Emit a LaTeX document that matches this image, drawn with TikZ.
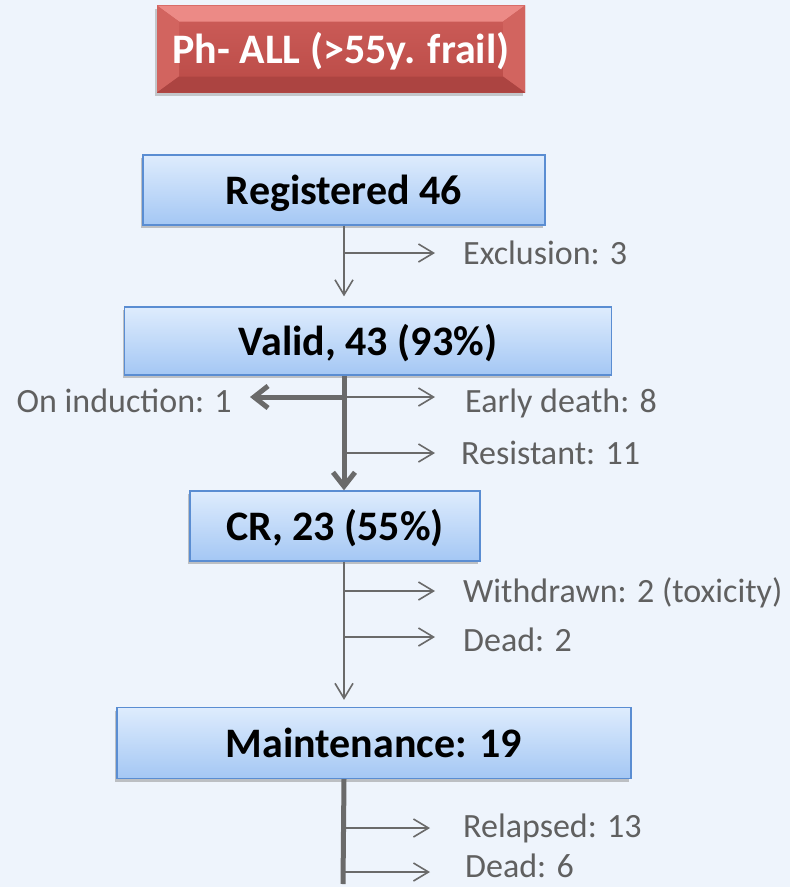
\documentclass[tikz,border=0pt]{standalone}
\usepackage{fontspec}
\setmainfont{Carlito}
\usepackage{xcolor}
\usetikzlibrary{positioning}
\usetikzlibrary{arrows.meta}
\usetikzlibrary{shadows}

\definecolor{bgblue}{HTML}{EEF4FC}
\definecolor{boxtop}{HTML}{DEECFD}
\definecolor{boxbot}{HTML}{A4C7F4}
\definecolor{boxedge}{HTML}{5A8DD2}
\definecolor{flowgray}{HTML}{6A6A6A}
\definecolor{labelgray}{HTML}{606060}
\definecolor{redtop}{HTML}{CE5E5A}
\definecolor{redbot}{HTML}{B94A46}
\definecolor{bevlight}{HTML}{EC8A86}
\definecolor{bevside}{HTML}{D2645F}
\definecolor{bevdark}{HTML}{AC4441}

\tikzset{
    stage/.style={draw=boxedge, line width=1.3pt, top color=boxtop, bottom color=boxbot,
        font=\fontsize{42}{46}\selectfont\bfseries, text height=28pt, text depth=0pt,
        drop shadow={shadow xshift=-2pt, shadow yshift=-3pt, fill=black!45}},
    titlebox/.style={text=white, top color=redtop, bottom color=redbot,
        font=\fontsize{42}{46}\selectfont\bfseries, text height=28pt, text depth=0pt,
        drop shadow={shadow xshift=-2pt, shadow yshift=-3pt, fill=black!40},
        path picture={
            \fill[bevlight] (path picture bounding box.north west) -- (path picture bounding box.north east)
                -- ([shift={(-22pt,-16pt)}]path picture bounding box.north east)
                -- ([shift={(22pt,-16pt)}]path picture bounding box.north west) -- cycle;
            \fill[bevside] (path picture bounding box.north west) -- ([shift={(22pt,-16pt)}]path picture bounding box.north west)
                -- ([shift={(22pt,16pt)}]path picture bounding box.south west) -- (path picture bounding box.south west) -- cycle;
            \fill[bevside] (path picture bounding box.north east) -- ([shift={(-22pt,-16pt)}]path picture bounding box.north east)
                -- ([shift={(-22pt,16pt)}]path picture bounding box.south east) -- (path picture bounding box.south east) -- cycle;
            \fill[bevdark] (path picture bounding box.south west) -- (path picture bounding box.south east)
                -- ([shift={(-22pt,16pt)}]path picture bounding box.south east)
                -- ([shift={(22pt,16pt)}]path picture bounding box.south west) -- cycle;
        }},
    outcome/.style={text=labelgray, font=\fontsize{34}{38}\selectfont, inner sep=0pt,
        text height=23pt, text depth=0pt},
    flow/.style={draw=flowgray, line width=1.6pt, -{Straight Barb[length=15pt,width=18pt]}},
    mainflow/.style={draw=flowgray, line width=5pt},
    thickhead/.style={-{Straight Barb[length=14pt,width=22pt]}},
}

\begin{document}
\begin{tikzpicture}[x=1pt,y=-1pt]
    \fill[bgblue] (0,0) rectangle (790,887);
    \useasboundingbox (0,0) rectangle (790,887);

    % boxes of the flow
    \node[titlebox, minimum width=368pt, minimum height=87pt] (title) at (341,49) {Ph- ALL (>55y. frail)};
    \node[stage, minimum width=402pt, minimum height=70pt] (reg) at (344,190) {Registered 46};
    \node[stage, minimum width=487pt, minimum height=68pt] (valid) at (368,341) {Valid, 43 (93\%)};
    \node[stage, minimum width=290pt, minimum height=70pt] (cr) at (335,526) {CR, 23 (55\%)};
    \node[stage, minimum width=514pt, minimum height=71pt] (maint) at (374,743) {Maintenance: 19};

    % side outcomes
    \node[outcome, anchor=west] (excl) at (463,253) {Exclusion: 3};
    \node[outcome, anchor=east] (induct) at (232,401) {On induction: 1};
    \node[outcome, anchor=west] (early) at (465,401) {Early death: 8};
    \node[outcome, anchor=west] (resist) at (461,453) {Resistant: 11};
    \node[outcome, anchor=west] (withdr) at (463,591) {Withdrawn: 2 (toxicity)};
    \node[outcome, anchor=west] (dead2) at (463,640) {Dead: 2};
    \node[outcome, anchor=west] (relap) at (463,826) {Relapsed: 13};
    \node[outcome, anchor=west] (dead6) at (465,866) {Dead: 6};

    % registered -> valid
    \draw[flow] (reg.south) -- ([yshift=10pt]valid.north -| reg.south);
    \draw[flow] (excl.west -| reg.south) -- ([xshift=-28pt]excl.west);

    % valid -> CR
    \draw[mainflow, thickhead] (valid.south -| reg.south) -- (cr.north -| reg.south);
    \draw[mainflow, thickhead] ([yshift=4pt]induct.east -| reg.south) -- ([shift={(18pt,4pt)}]induct.east);
    \draw[flow] ([yshift=4pt]early.west -| reg.south) -- ([shift={(-30pt,4pt)}]early.west);
    \draw[flow] (resist.west -| reg.south) -- ([xshift=-26pt]resist.west);

    % CR -> maintenance
    \draw[flow] (cr.south -| reg.south) -- ([yshift=7pt]maint.north -| reg.south);
    \draw[flow] (withdr.west -| reg.south) -- ([xshift=-28pt]withdr.west);
    \draw[flow] ([yshift=3pt]dead2.west -| reg.south) -- ([shift={(-28pt,3pt)}]dead2.west);

    % after maintenance
    \coordinate (tail) at (343,884);
    \draw[mainflow] (maint.south -| reg.south) -- (tail);
    \draw[flow] ([yshift=-2pt]relap.west -| reg.south) -- ([shift={(-33pt,-2pt)}]relap.west);
    \draw[flow] ([yshift=-6pt]dead6.west -| reg.south) -- ([shift={(-35pt,-6pt)}]dead6.west);
\end{tikzpicture}
\end{document}
